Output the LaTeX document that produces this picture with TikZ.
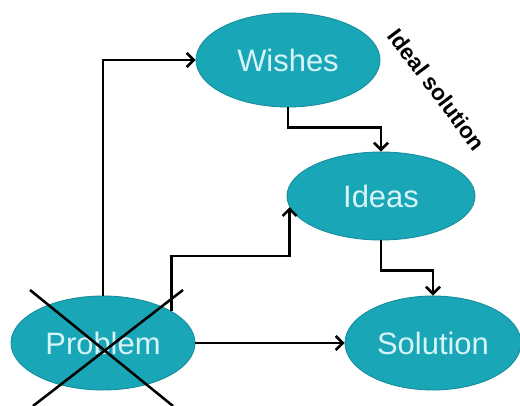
\documentclass[tikz,border=0pt]{standalone}
\usepackage{fontspec}
\setmainfont{Liberation Sans}
\usetikzlibrary{shapes.geometric,arrows.meta}
\definecolor{tealfill}{RGB}{25,166,183}
\definecolor{tealline}{RGB}{20,140,155}
\definecolor{paletext}{RGB}{215,244,248}
\begin{document}
\begin{tikzpicture}[x=0.025cm, y=-0.025cm, line width=1.8pt, >={Straight Barb[length=5pt,width=10pt]},
    main/.style = {ellipse, draw=tealline, line width=0.6pt, fill=tealfill, text=paletext, inner sep=0pt, font=\fontsize{22}{26}\selectfont}]
    \useasboundingbox (0,0) rectangle (520,406);
    \node[main, minimum width=4.6cm, minimum height=2.35cm] (1) at (103,343) {Problem};
    \node[main, minimum width=4.6cm, minimum height=2.35cm] (2) at (288,60)  {Wishes};
    \node[main, minimum width=4.7cm, minimum height=2.2cm]  (3) at (381,196) {Ideas};
    \node[main, minimum width=4.4cm, minimum height=2.35cm] (4) at (433,343) {Solution};
    \node[rotate=-53, font=\fontsize{16}{18}\selectfont\bfseries] (5) at (437,90) {Ideal solution};
    \coordinate (k) at (0,256);

    \draw[->] (1) |- (2);
    \draw[->] (1.25) -- (1.25 |- k) -| (3.187);
    \draw[->] (1) -- (4);
    \draw[->] (2.south) -- ++(0,20) -| (3.north);
    \draw[->] (3.south) -- ++(0,30) -| (4.north);

    \draw (30,290) -- (173,406);
    \draw (183,290) -- (33,406);
\end{tikzpicture}
\end{document}
